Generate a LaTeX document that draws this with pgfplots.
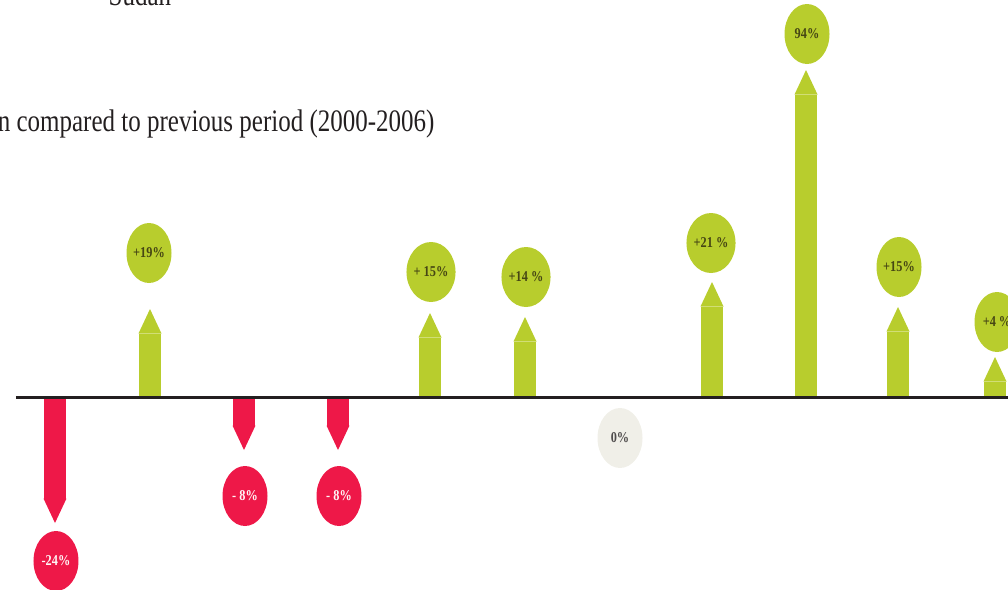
\documentclass[border=0pt]{standalone}
\usepackage{pgfplots}
\pgfplotsset{compat=1.18}
\usepackage{graphicx}
\usepackage{fontspec}
\setmainfont{Liberation Serif}
\usetikzlibrary{arrows.meta,shapes.geometric}
\definecolor{mygreen}{RGB}{184,205,45}
\definecolor{myred}{RGB}{238,24,72}
\definecolor{mygray}{RGB}{240,239,232}
\definecolor{ink}{RGB}{35,31,32}
\definecolor{greentext}{RGB}{70,70,20}
\begin{document}
\begin{tikzpicture}
\useasboundingbox (0,0) rectangle (403.2pt,235.6pt);
\clip (0,0) rectangle (403.2pt,235.6pt);
\begin{axis}[
  scale only axis, width=403.2pt, height=235.6pt,
  xmin=0, xmax=1008, ymin=-192, ymax=397,
  hide axis, clip=false,
]
% arrows (height of arrow tip above/below baseline, picture units)
\addplot[quiver={u=0,v=\thisrow{v}}, draw=mygreen, line width=9pt,
  -{Triangle[length=9.8pt, width=9.2pt, line width=0pt]}]
  table[row sep=\\] {x y v\\150 0 88\\430 0 84\\525 0 80\\712 0 115\\806 0 327\\898 0 90\\995 0 40\\};
\addplot[quiver={u=0,v=\thisrow{v}}, draw=myred, line width=9pt,
  -{Triangle[length=9.8pt, width=9.2pt, line width=0pt]}]
  table[row sep=\\] {x y v\\55 0 -126\\244 0 -53\\338 0 -53\\};
% baseline
\addplot[draw=ink, line width=1.2pt] coordinates {(16,0) (1008,0)};
% bubbles
\addplot[draw=none, point meta=explicit symbolic,
  nodes near coords={\scalebox{0.82}[1]{\pgfplotspointmeta}},
  every node near coord/.append style={ellipse, fill=mygreen, minimum width=18pt, minimum height=24pt, inner sep=0pt, anchor=center, text=greentext, font=\fontsize{6}{6}\selectfont\bfseries}]
  table[col sep=comma, row sep=\\, meta=l] {x,y,l\\149,144,+19\%\\431,125,+ 15\%\\526,120,+14 \%\\711,154,+21 \%\\807,363,94\%\\899,130,+15\%\\997,75,+4 \%\\};
\addplot[draw=none, point meta=explicit symbolic,
  nodes near coords={\scalebox{0.82}[1]{\pgfplotspointmeta}},
  every node near coord/.append style={ellipse, fill=myred, minimum width=18pt, minimum height=24pt, inner sep=0pt, anchor=center, text=white!85!pink, font=\fontsize{6}{6}\selectfont\bfseries}]
  table[col sep=comma, row sep=\\, meta=l] {x,y,l\\56,-164,-24\%\\245,-99,- 8\%\\339,-99,- 8\%\\};
\addplot[draw=none, point meta=explicit symbolic,
  nodes near coords={\scalebox{0.82}[1]{\pgfplotspointmeta}},
  every node near coord/.append style={ellipse, fill=mygray, minimum width=18pt, minimum height=24pt, inner sep=0pt, anchor=center, text=ink!80, font=\fontsize{6}{6}\selectfont\bfseries}]
  table[col sep=comma, row sep=\\, meta=l] {x,y,l\\620,-41,0\%\\};
\node[anchor=base east, inner sep=0pt, text=ink, font=\fontsize{12.5}{14}\selectfont] at (axis cs:435,266) {\scalebox{0.8}[1]{Variation compared to previous period (2000-2006)}};
\node[anchor=base, inner sep=0pt, text=ink, font=\fontsize{12.5}{14}\selectfont] at (axis cs:140,392) {\scalebox{0.8}[1]{Sudan}};
\end{axis}
\end{tikzpicture}
\end{document}
